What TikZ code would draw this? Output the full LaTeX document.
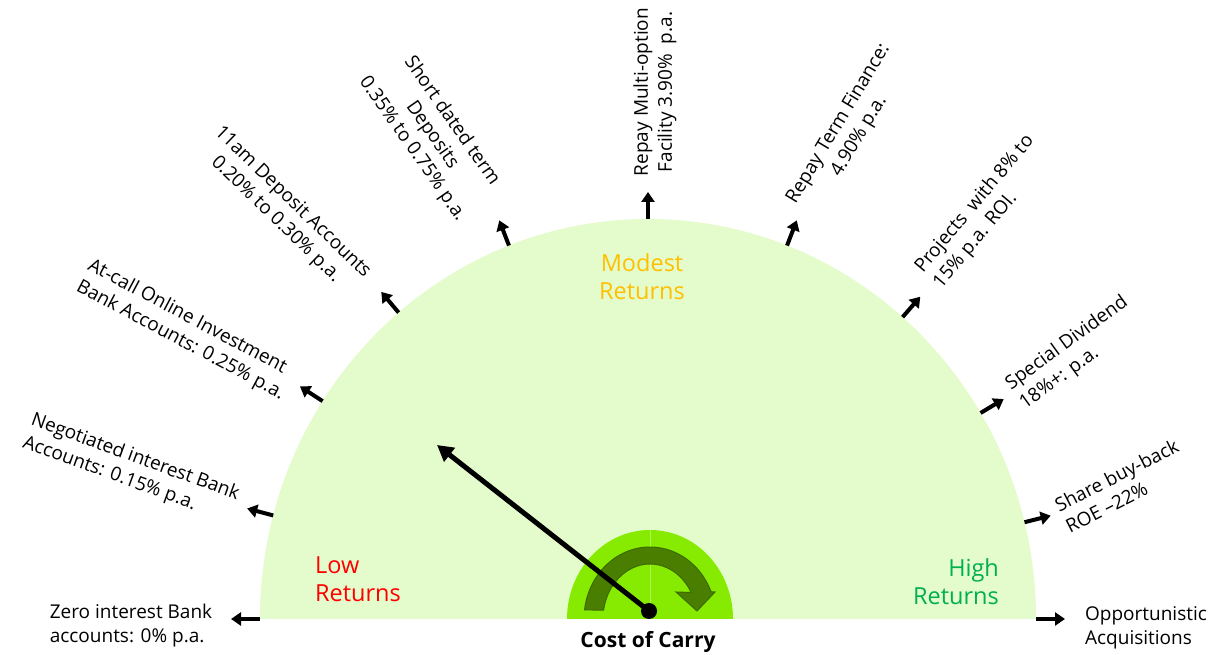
\documentclass[tikz,border=0pt]{standalone}
\usepackage{fontspec}
\setmainfont{Open Sans}
\usepackage{xcolor}
\usepackage{tikz}
\usetikzlibrary{arrows.meta}

\definecolor{gaugefill}{HTML}{E4FBCB}
\definecolor{carryfill}{HTML}{86EB00}
\definecolor{turnfill}{HTML}{4A7E00}
\definecolor{turnedge}{HTML}{3D6B00}
\definecolor{lowred}{HTML}{FF0000}
\definecolor{modestorange}{HTML}{FFC000}
\definecolor{highgreen}{HTML}{00B050}

\tikzset{
  outarrow/.style={line width=4pt, -{Triangle[length=10pt,width=13pt]}},
  lbl/.style={font=\fontsize{19}{24}\selectfont, inner sep=0pt},
  zone/.style={font=\fontsize{23.5}{28}\selectfont, inner sep=0pt}
}

\begin{document}
\begin{tikzpicture}[x=1pt,y=1pt]
\useasboundingbox (0,0) rectangle (1222,655);

% ==== Gauge body ====
\coordinate (C) at (648,36);
\fill[gaugefill] (260,36) arc[start angle=180, end angle=0, x radius=388, y radius=400] -- cycle;

% rim points and arrow ends
\begin{scope}[shift={(C)}]
\coordinate (r0) at (180:388 and 400);  \coordinate (t0) at (180:417 and 429);
\coordinate (r1) at (165:388 and 400);  \coordinate (t1) at (165:415 and 427);
\coordinate (r2) at (147:388 and 400);  \coordinate (t2) at (147:415 and 427);
\coordinate (r3) at (130:388 and 400);  \coordinate (t3) at (130:415 and 427);
\coordinate (r4) at (111:388 and 400);  \coordinate (t4) at (111:415 and 427);
\coordinate (r5) at (90:388 and 400);   \coordinate (t5) at (90:415 and 427);
\coordinate (r6) at (69:388 and 400);   \coordinate (t6) at (69:415 and 427);
\coordinate (r7) at (49:388 and 400);   \coordinate (t7) at (49:415 and 427);
\coordinate (r8) at (31:388 and 400);   \coordinate (t8) at (31:415 and 427);
\coordinate (r9) at (14:388 and 400);   \coordinate (t9) at (14:415 and 427);
\coordinate (r10) at (0:388 and 400);   \coordinate (t10) at (0:417 and 429);
\end{scope}

% Arrows out of the rim
\draw[outarrow] (r0) -- (t0);
\draw[outarrow] (r1) -- (t1);
\draw[outarrow] (r2) -- (t2);
\draw[outarrow] (r3) -- (t3);
\draw[outarrow] (r4) -- (t4);
\draw[outarrow] (r5) -- (t5);
\draw[outarrow] (r6) -- (t6);
\draw[outarrow] (r7) -- (t7);
\draw[outarrow] (r8) -- (t8);
\draw[outarrow] (r9) -- (t9);
\draw[outarrow] (r10) -- (t10);

% ==== Labels ====
\node[lbl, align=left] (zero) at (131,29) {Zero interest Bank\\accounts: 0\% p.a.};
\node[lbl, align=left, rotate=-20] (negotiated) at (131,186) {Negotiated interest Bank\\Accounts: 0.15\% p.a.};
\node[lbl, align=left, rotate=-28] (atcall) at (186,325) {At-call Online Investment\\Bank Accounts: 0.25\% p.a.};
\node[lbl, align=center, rotate=-44] (elevenam) at (284,444) {11am Deposit Accounts\\0.20\% to 0.30\% p.a.};
\node[lbl, align=center, rotate=-55] (shortterm) at (432,520) {Short dated term\\Deposits\\0.35\%\ to 0.75\%\ p.a.};
\node[lbl, align=center, rotate=90] (multioption) at (655,563) {Repay Multi-option\\Facility 3.90\%\ \ p.a.};
\node[lbl, align=center, rotate=59] (termfinance) at (849,525) {Repay Term Finance:\\4.90\%\ p.a.};
\node[lbl, align=left, rotate=50] (projects) at (984,443) {Projects\ \ with 8\% to\\15\% p.a. ROI.};
\node[lbl, align=left, rotate=36] (dividend) at (1074,302) {Special\ Dividend\\18\%+: p.a.};
\node[lbl, align=left, rotate=27] (buyback) at (1122,169) {Share buy-back\\ROE --22\%};
\node[lbl, align=left] (acquisitions) at (1146,27) {Opportunistic\\Acquisitions};

% Zone labels
\node[zone, align=left, text=lowred] (low) at (358,76) {Low\\Returns};
\node[zone, align=center, text=modestorange] (modest) at (642,378) {Modest\\Returns};
\node[zone, align=right, text=highgreen] (high) at (956,73) {High\\Returns};

% ==== Cost of carry dial ====
\fill[carryfill] (567,36) arc[start angle=180, end angle=0, x radius=83, y radius=89] -- cycle;
\draw[white, opacity=0.35, line width=1pt] (650,36) -- (650,125);

\begin{scope}[shift={(650,36)}]
\filldraw[fill=turnfill, draw=turnedge, line width=1pt]
  (172.7:66 and 72) arc[start angle=172.7, end angle=22.3, x radius=66, y radius=72]
  -- (65,27) -- (47,8) -- (26,27) -- (28.8:47 and 55)
  arc[start angle=28.8, end angle=170.8, x radius=47, y radius=55] -- cycle;
\end{scope}

% Needle
\coordinate (needle) at (437,210);
\node[circle, fill=black, inner sep=0pt, minimum size=16pt] (pivot) at (649,44) {};
\draw[line width=5pt, -{Triangle[length=16pt,width=17pt]}] (pivot.center) -- (needle);

\node[font=\fontsize{21}{24}\selectfont\bfseries, inner sep=0pt] (carry) at (648,13) {Cost of Carry};

\end{tikzpicture}
\end{document}
